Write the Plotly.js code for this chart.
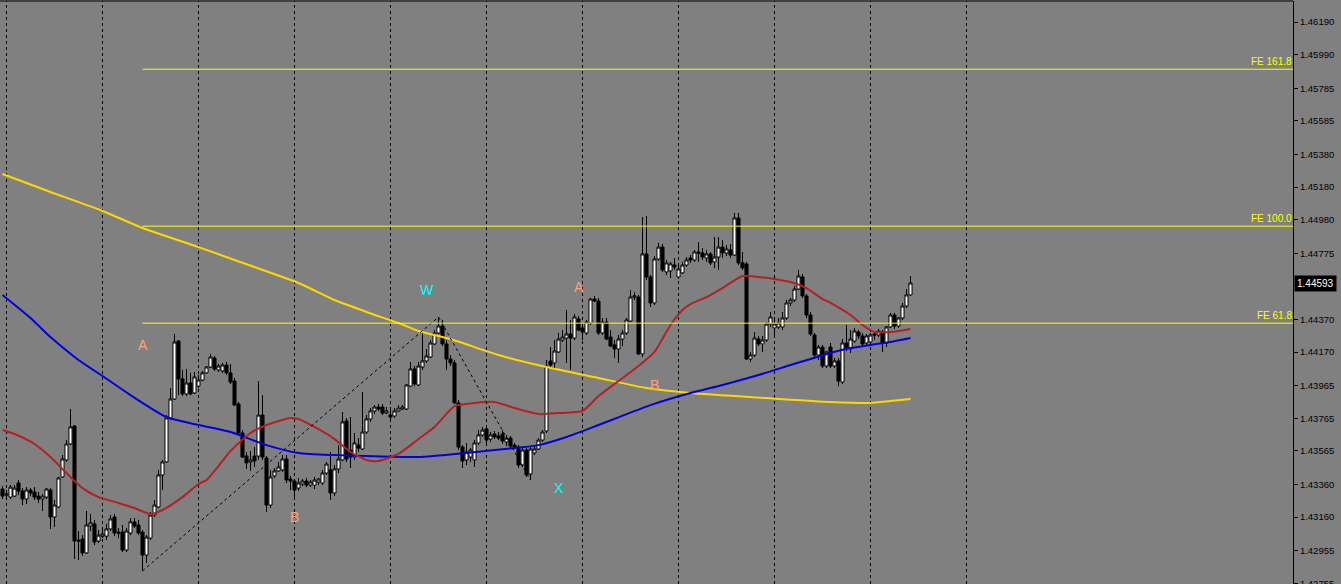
<!DOCTYPE html>
<html>
<head>
<meta charset="utf-8">
<script src="https://cdn.plot.ly/plotly-3.0.1.min.js"></script>
<style>html,body{margin:0;padding:0;background:#808080;}#chart{width:1341px;height:584px;}</style>
</head>
<body>
<div id="chart"></div>
<script>
// ---- OHLC data (H1 bars, oldest first) ----
const open = [1.43332,1.43295,1.43283,1.43289,1.43369,1.43320,1.43271,1.43326,1.43314,1.43289,1.43271,1.43283,1.43326,1.43161,1.43222,1.43406,1.43510,1.43608,1.43718,1.43020,1.43026,1.42941,1.43106,1.43119,1.43014,1.43044,1.43044,1.43088,1.43161,1.43069,1.43069,1.42959,1.43063,1.43131,1.43112,1.43069,1.42928,1.43032,1.43173,1.43222,1.43418,1.43498,1.43767,1.43883,1.44238,1.44006,1.43914,1.43981,1.43920,1.43962,1.43999,1.44043,1.44079,1.44134,1.44061,1.44055,1.44091,1.44043,1.43993,1.43853,1.43675,1.43534,1.43498,1.43534,1.43534,1.43785,1.43522,1.43234,1.43412,1.43443,1.43449,1.43516,1.43393,1.43381,1.43338,1.43363,1.43381,1.43356,1.43356,1.43375,1.43369,1.43430,1.43449,1.43308,1.43455,1.43510,1.43749,1.43571,1.43528,1.43601,1.43577,1.43681,1.43761,1.43810,1.43834,1.43834,1.43797,1.43785,1.43779,1.43810,1.43822,1.43822,1.43962,1.44067,1.43969,1.44079,1.44116,1.44140,1.44220,1.44287,1.44330,1.44220,1.44128,1.44104,1.43859,1.43589,1.43510,1.43528,1.43510,1.43614,1.43663,1.43700,1.43638,1.43669,1.43657,1.43669,1.43620,1.43644,1.43601,1.43589,1.43479,1.43571,1.43424,1.43553,1.43577,1.43632,1.43687,1.44116,1.44104,1.44171,1.44244,1.44256,1.44281,1.44256,1.44373,1.44318,1.44287,1.44348,1.44495,1.44483,1.44287,1.44354,1.44262,1.44214,1.44189,1.44250,1.44287,1.44360,1.44507,1.44507,1.44159,1.44771,1.44630,1.44471,1.44740,1.44813,1.44661,1.44667,1.44703,1.44630,1.44655,1.44703,1.44746,1.44734,1.44783,1.44777,1.44746,1.44771,1.44722,1.44752,1.44813,1.44777,1.44795,1.44764,1.44991,1.44716,1.44710,1.44128,1.44152,1.44250,1.44220,1.44244,1.44342,1.44318,1.44324,1.44324,1.44379,1.44471,1.44489,1.44556,1.44630,1.44514,1.44397,1.44275,1.44152,1.44201,1.44085,1.44201,1.44085,1.44116,1.43987,1.44226,1.44189,1.44238,1.44293,1.44269,1.44226,1.44232,1.44281,1.44275,1.44293,1.44226,1.44324,1.44397,1.44330,1.44379,1.44452,1.44520];
const high = [1.43350,1.43326,1.43356,1.43356,1.43387,1.43338,1.43344,1.43338,1.43344,1.43314,1.43302,1.43338,1.43338,1.43265,1.43406,1.43540,1.43632,1.43822,1.43724,1.43075,1.43050,1.43198,1.43180,1.43143,1.43081,1.43081,1.43119,1.43173,1.43180,1.43094,1.43112,1.43094,1.43155,1.43155,1.43143,1.43081,1.43050,1.43192,1.43265,1.43449,1.43510,1.43785,1.43950,1.44281,1.44244,1.44061,1.44067,1.44043,1.44049,1.44030,1.44055,1.44085,1.44159,1.44146,1.44098,1.44104,1.44110,1.44098,1.44012,1.43865,1.43693,1.43559,1.43565,1.43589,1.43993,1.43907,1.43534,1.43449,1.43461,1.43498,1.43540,1.43540,1.43412,1.43393,1.43400,1.43393,1.43400,1.43387,1.43406,1.43400,1.43449,1.43498,1.43559,1.43479,1.43601,1.43804,1.43767,1.43773,1.43675,1.43644,1.43926,1.43785,1.43828,1.43846,1.43853,1.43853,1.43834,1.43816,1.43828,1.43846,1.43846,1.43975,1.44110,1.44085,1.44110,1.44287,1.44189,1.44244,1.44305,1.44385,1.44367,1.44244,1.44152,1.44122,1.43877,1.43601,1.43614,1.43583,1.43632,1.43693,1.43712,1.43724,1.43681,1.43687,1.43681,1.43693,1.43663,1.43657,1.43614,1.43601,1.43583,1.43583,1.43589,1.43595,1.43644,1.43693,1.44122,1.44201,1.44244,1.44287,1.44305,1.44428,1.44367,1.44404,1.44391,1.44336,1.44367,1.44501,1.44514,1.44501,1.44379,1.44379,1.44305,1.44244,1.44275,1.44305,1.44379,1.44550,1.44538,1.44520,1.44997,1.45003,1.44642,1.44758,1.44838,1.44832,1.44734,1.44722,1.44746,1.44710,1.44722,1.44752,1.44764,1.44795,1.44844,1.44807,1.44795,1.44783,1.44874,1.44874,1.44856,1.44826,1.44832,1.45022,1.45022,1.44783,1.44722,1.44171,1.44293,1.44269,1.44269,1.44354,1.44416,1.44379,1.44379,1.44416,1.44489,1.44501,1.44575,1.44673,1.44648,1.44526,1.44416,1.44287,1.44214,1.44214,1.44177,1.44226,1.44134,1.44134,1.44250,1.44336,1.44305,1.44318,1.44305,1.44287,1.44281,1.44287,1.44293,1.44312,1.44305,1.44330,1.44410,1.44410,1.44385,1.44471,1.44556,1.44636];
const low = [1.43271,1.43277,1.43271,1.43283,1.43295,1.43234,1.43241,1.43289,1.43265,1.43247,1.43198,1.43271,1.43088,1.43100,1.43216,1.43400,1.43498,1.43601,1.42904,1.42898,1.42922,1.42935,1.43075,1.42989,1.43002,1.43032,1.43020,1.43075,1.43044,1.43032,1.42947,1.42947,1.43050,1.43094,1.43050,1.42831,1.42880,1.43020,1.43161,1.43216,1.43326,1.43492,1.43755,1.43877,1.43907,1.43901,1.43901,1.43907,1.43914,1.43950,1.43993,1.44037,1.44073,1.44055,1.44049,1.44043,1.44030,1.43975,1.43840,1.43669,1.43522,1.43455,1.43443,1.43467,1.43510,1.43510,1.43192,1.43216,1.43400,1.43437,1.43437,1.43369,1.43326,1.43283,1.43320,1.43350,1.43344,1.43344,1.43332,1.43356,1.43356,1.43418,1.43265,1.43289,1.43430,1.43504,1.43498,1.43461,1.43510,1.43559,1.43571,1.43669,1.43743,1.43791,1.43810,1.43785,1.43791,1.43755,1.43767,1.43804,1.43816,1.43816,1.43956,1.43962,1.43962,1.44061,1.44104,1.44134,1.44214,1.44281,1.44207,1.44061,1.44085,1.43853,1.43571,1.43461,1.43479,1.43498,1.43467,1.43601,1.43651,1.43614,1.43620,1.43638,1.43632,1.43608,1.43595,1.43583,1.43577,1.43461,1.43467,1.43406,1.43387,1.43540,1.43571,1.43620,1.43675,1.44073,1.44061,1.44165,1.44232,1.44104,1.44061,1.44244,1.44299,1.44244,1.44275,1.44336,1.44477,1.44275,1.44275,1.44244,1.44201,1.44134,1.44104,1.44207,1.44275,1.44354,1.44489,1.44152,1.44140,1.44611,1.44446,1.44458,1.44728,1.44661,1.44642,1.44624,1.44673,1.44618,1.44648,1.44691,1.44716,1.44722,1.44722,1.44734,1.44722,1.44703,1.44685,1.44673,1.44746,1.44758,1.44746,1.44758,1.44703,1.44673,1.44122,1.44110,1.44140,1.44207,1.44171,1.44232,1.44324,1.44275,1.44312,1.44305,1.44367,1.44452,1.44477,1.44550,1.44501,1.44379,1.44269,1.44128,1.44122,1.44073,1.44073,1.44073,1.44073,1.43962,1.43975,1.44177,1.44165,1.44226,1.44250,1.44207,1.44207,1.44220,1.44244,1.44262,1.44171,1.44201,1.44318,1.44312,1.44318,1.44367,1.44440,1.44514];
const close = [1.43289,1.43302,1.43344,1.43338,1.43320,1.43271,1.43326,1.43308,1.43283,1.43271,1.43289,1.43332,1.43161,1.43234,1.43400,1.43516,1.43608,1.43712,1.43014,1.43014,1.42941,1.43112,1.43125,1.43008,1.43050,1.43057,1.43088,1.43149,1.43063,1.43063,1.42959,1.43075,1.43131,1.43106,1.43063,1.42928,1.43038,1.43173,1.43234,1.43418,1.43498,1.43767,1.43883,1.44232,1.44006,1.43914,1.43981,1.43914,1.44018,1.43999,1.44043,1.44079,1.44140,1.44067,1.44085,1.44091,1.44043,1.43987,1.43846,1.43675,1.43528,1.43492,1.43510,1.43504,1.43785,1.43528,1.43234,1.43406,1.43443,1.43467,1.43516,1.43387,1.43381,1.43326,1.43369,1.43381,1.43356,1.43375,1.43387,1.43393,1.43430,1.43485,1.43308,1.43455,1.43516,1.43743,1.43516,1.43528,1.43614,1.43583,1.43681,1.43761,1.43810,1.43834,1.43822,1.43797,1.43810,1.43773,1.43810,1.43828,1.43834,1.43969,1.44067,1.43975,1.44085,1.44116,1.44146,1.44226,1.44287,1.44330,1.44220,1.44128,1.44104,1.43859,1.43589,1.43504,1.43559,1.43571,1.43614,1.43663,1.43693,1.43632,1.43663,1.43651,1.43644,1.43626,1.43644,1.43595,1.43589,1.43479,1.43571,1.43418,1.43577,1.43577,1.43632,1.43681,1.44085,1.44091,1.44177,1.44250,1.44262,1.44281,1.44256,1.44385,1.44305,1.44293,1.44354,1.44495,1.44483,1.44287,1.44354,1.44250,1.44207,1.44189,1.44250,1.44287,1.44367,1.44507,1.44514,1.44159,1.44771,1.44630,1.44471,1.44740,1.44813,1.44673,1.44716,1.44710,1.44691,1.44679,1.44703,1.44734,1.44734,1.44783,1.44777,1.44752,1.44771,1.44716,1.44752,1.44813,1.44777,1.44801,1.44764,1.44991,1.44716,1.44685,1.44128,1.44152,1.44256,1.44220,1.44244,1.44342,1.44385,1.44342,1.44348,1.44379,1.44471,1.44489,1.44556,1.44636,1.44514,1.44397,1.44281,1.44152,1.44201,1.44085,1.44171,1.44085,1.44116,1.43993,1.44226,1.44189,1.44250,1.44299,1.44269,1.44220,1.44269,1.44275,1.44275,1.44299,1.44226,1.44324,1.44397,1.44330,1.44379,1.44452,1.44520,1.44593];

// ---- moving averages (read at bar indices) ----
const slowMaIdx = [0,12,25,35,49,58,74,83,91,99,104,112,124,136,149,161,172,191,207,217,222,227];
const slowMa    = [1.45260,1.45150,1.45034,1.44930,1.44813,1.44734,1.44593,1.44489,1.44416,1.44348,1.44299,1.44250,1.44152,1.44079,1.44012,1.43950,1.43920,1.43889,1.43865,1.43859,1.43871,1.43883];
const midMaIdx  = [0,7,12,19,25,32,41,49,57,66,74,83,91,104,116,128,134,141,149,162,172,180,189,197,202,207,212,217,222,227];
const midMa     = [1.44520,1.44379,1.44262,1.44122,1.44024,1.43907,1.43773,1.43724,1.43681,1.43601,1.43553,1.43540,1.43534,1.43528,1.43553,1.43583,1.43601,1.43651,1.43724,1.43846,1.43920,1.43969,1.44030,1.44091,1.44128,1.44165,1.44195,1.44214,1.44232,1.44256];
const fastMaIdx = [0,3,8,12,16,20,24,29,33,37,40,45,49,51,54,57,62,66,72,74,78,83,87,91,94,99,104,108,113,116,123,128,134,139,145,149,154,159,163,167,170,172,176,180,185,189,193,197,201,205,207,212,215,218,222,227];
const fastMa    = [1.43693,1.43669,1.43608,1.43528,1.43430,1.43338,1.43283,1.43247,1.43216,1.43179,1.43204,1.43283,1.43363,1.43387,1.43473,1.43565,1.43675,1.43724,1.43767,1.43761,1.43712,1.43638,1.43559,1.43510,1.43504,1.43547,1.43638,1.43712,1.43840,1.43853,1.43865,1.43828,1.43791,1.43797,1.43810,1.43901,1.43993,1.44085,1.44171,1.44336,1.44428,1.44464,1.44507,1.44562,1.44636,1.44630,1.44618,1.44599,1.44562,1.44495,1.44471,1.44397,1.44336,1.44293,1.44293,1.44312];

// ---- Fibonacci expansion (anchors: bar index + price) ----
const feAnchorIdx   = [35, 109, 132];
const feAnchorPrice = [1.42831, 1.44385, 1.43387];
const feLevels      = [61.8, 100.0, 161.8];

// ---- wave labels ----
const waveText  = ['A','B','W','X','A','B'];
const waveIdx   = [35, 73, 106, 139, 144, 163];
const wavePrice = [1.44214, 1.43161, 1.44550, 1.43338, 1.44569, 1.43969];
const waveColor = ['#FFA07A','#FFA07A','#00FFFF','#00FFFF','#FFA07A','#FFA07A'];

// ---- price scale labels (the one under the current-price tag is hidden) ----
const yTicks = [1.46190,1.45990,1.45785,1.45585,1.45380,1.45180,1.44980,1.44775,1.44575,1.44370,1.44170,1.43965,1.43765,1.43565,1.43360,1.43160,1.42955,1.42755];

const barsPerDay = 24;
const n = close.length;
const xs = close.map((_, i) => i);
const barPx = 4, plotW = 1293;
const xMin = -0.625, xMax = xMin + plotW / barPx;
const lastClose = close[n - 1];

const traces = [];
traces.push({
  type: 'candlestick', x: xs, open: open, high: high, low: low, close: close,
  increasing: {line: {color: '#000000', width: 1}, fillcolor: '#FFFFFF'},
  decreasing: {line: {color: '#000000', width: 1}, fillcolor: '#000000'},
  whiskerwidth: 0, hoverinfo: 'skip', showlegend: false
});
traces.push({type: 'scatter', mode: 'lines', x: slowMaIdx, y: slowMa, line: {color: '#FFD700', width: 2, shape: 'spline', smoothing: 0.6}, hoverinfo: 'skip', showlegend: false});
traces.push({type: 'scatter', mode: 'lines', x: midMaIdx, y: midMa, line: {color: '#0000DD', width: 2, shape: 'spline', smoothing: 0.6}, hoverinfo: 'skip', showlegend: false});
traces.push({type: 'scatter', mode: 'lines', x: fastMaIdx, y: fastMa, line: {color: '#B22222', width: 2, shape: 'spline', smoothing: 0.6}, hoverinfo: 'skip', showlegend: false});

const shapes = [];
// day separators (vertical dashed grid), drawn up to one day past the last bar
for (let g = 1; g <= (n - 1) + barsPerDay; g += barsPerDay) {
  shapes.push({type: 'line', xref: 'x', yref: 'paper', x0: g, x1: g, y0: 0, y1: 1, layer: 'below',
    line: {color: '#000000', width: 1, dash: '3px,3px'}});
}
// top border
shapes.push({type: 'line', xref: 'paper', yref: 'paper', x0: 0, x1: 1, y0: 1, y1: 1, line: {color: '#000000', width: 1}});
// fibo expansion trend lines
shapes.push({type: 'line', xref: 'x', yref: 'y', x0: feAnchorIdx[0], y0: feAnchorPrice[0], x1: feAnchorIdx[1], y1: feAnchorPrice[1], line: {color: '#000000', width: 1, dash: 'dot'}});
shapes.push({type: 'line', xref: 'x', yref: 'y', x0: feAnchorIdx[1], y0: feAnchorPrice[1], x1: feAnchorIdx[2], y1: feAnchorPrice[2], line: {color: '#000000', width: 1, dash: 'dot'}});

const annotations = [];
const range = feAnchorPrice[1] - feAnchorPrice[0];
feLevels.forEach(lv => {
  const p = feAnchorPrice[2] + range * lv / 100;
  shapes.push({type: 'line', xref: 'x', yref: 'y', x0: feAnchorIdx[0], x1: xMax, y0: p, y1: p, line: {color: '#FFFF00', width: 1}});
  annotations.push({xref: 'paper', yref: 'y', x: 1, y: p, xanchor: 'right', yanchor: 'bottom', showarrow: false,
    text: 'FE ' + lv.toFixed(1), font: {family: 'Liberation Sans, Arial, sans-serif', size: 10, color: '#FFFF00'}, borderpad: 0, yshift: 1});
});
waveText.forEach((t, k) => {
  annotations.push({xref: 'x', yref: 'y', x: waveIdx[k], y: wavePrice[k], showarrow: false, text: t,
    font: {family: 'Liberation Sans, Arial, sans-serif', size: 14, color: waveColor[k]}});
});
// current price tag
annotations.push({xref: 'paper', yref: 'y', x: 1, y: lastClose, xanchor: 'left', yanchor: 'middle', xshift: 1, showarrow: false,
  text: lastClose.toFixed(5), bgcolor: '#000000', borderpad: 2,
  font: {family: 'Liberation Sans, Arial, sans-serif', size: 10, color: '#FFFFFF'}});

// tick labels: the label hidden behind the current price tag is left blank
const tickText = yTicks.map(v => Math.abs(v - lastClose) < 0.0003 ? '' : v.toFixed(5));

const layout = {
  width: 1341, height: 584,
  margin: {l: 0, r: 48, t: 1, b: 0, pad: 0, autoexpand: false},
  paper_bgcolor: '#808080', plot_bgcolor: '#808080',
  showlegend: false, boxgap: 0.2, boxgroupgap: 0.05,
  xaxis: {range: [xMin, xMax], showgrid: false, zeroline: false, showticklabels: false, ticks: '', showline: false, rangeslider: {visible: false}, fixedrange: true},
  yaxis: {side: 'right', range: [1.42751, 1.46319], showgrid: false, zeroline: false,
    tickmode: 'array', tickvals: yTicks, ticktext: tickText, ticklabeloverflow: 'allow',
    ticks: 'outside', ticklen: 4, tickcolor: '#000000', tickwidth: 1,
    showline: true, linecolor: '#000000', linewidth: 1,
    tickfont: {family: 'Liberation Sans, Arial, sans-serif', size: 9.5, color: '#000000'}, fixedrange: true},
  shapes: shapes, annotations: annotations
};

Plotly.newPlot('chart', traces, layout, {staticPlot: true, displayModeBar: false});
</script>
</body>
</html>
